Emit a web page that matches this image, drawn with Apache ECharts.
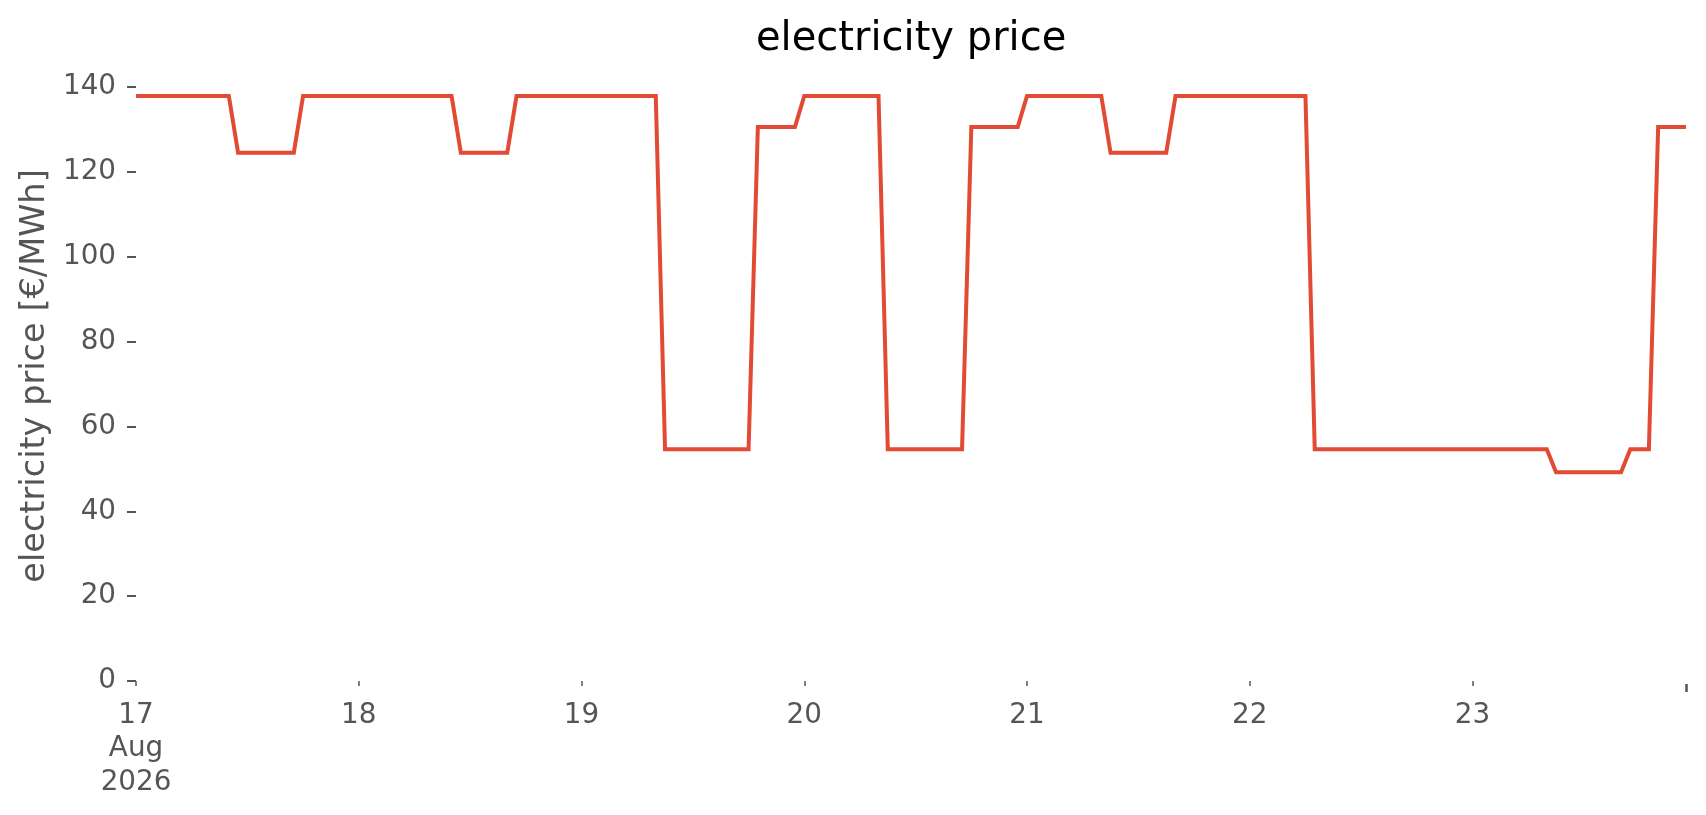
<!DOCTYPE html>
<html>
<head>
<meta charset="utf-8">
<script src="https://cdn.jsdelivr.net/npm/echarts@6/dist/echarts.min.js"></script>
<style>
html,body{margin:0;padding:0;background:#fff;}
#chart{width:1706px;height:815px;}
</style>
</head>
<body>
<div id="chart"></div>
<script>
// hourly electricity price [€/MWh], one array per day (00:00 .. 23:00)
var aug17 = [137.9,137.9,137.9,137.9,137.9,137.9,137.9,137.9,137.9,137.9,137.9,124.5,124.5,124.5,124.5,124.5,124.5,124.5,137.9,137.9,137.9,137.9,137.9,137.9];
var aug18 = [137.9,137.9,137.9,137.9,137.9,137.9,137.9,137.9,137.9,137.9,137.9,124.5,124.5,124.5,124.5,124.5,124.5,137.9,137.9,137.9,137.9,137.9,137.9,137.9];
var aug19 = [137.9,137.9,137.9,137.9,137.9,137.9,137.9,137.9,137.9,54.6,54.6,54.6,54.6,54.6,54.6,54.6,54.6,54.6,54.6,130.6,130.6,130.6,130.6,130.6];
var aug20 = [137.9,137.9,137.9,137.9,137.9,137.9,137.9,137.9,137.9,54.6,54.6,54.6,54.6,54.6,54.6,54.6,54.6,54.6,130.6,130.6,130.6,130.6,130.6,130.6];
var aug21 = [137.9,137.9,137.9,137.9,137.9,137.9,137.9,137.9,137.9,124.5,124.5,124.5,124.5,124.5,124.5,124.5,137.9,137.9,137.9,137.9,137.9,137.9,137.9,137.9];
var aug22 = [137.9,137.9,137.9,137.9,137.9,137.9,137.9,54.6,54.6,54.6,54.6,54.6,54.6,54.6,54.6,54.6,54.6,54.6,54.6,54.6,54.6,54.6,54.6,54.6];
var aug23 = [54.6,54.6,54.6,54.6,54.6,54.6,54.6,54.6,54.6,49.2,49.2,49.2,49.2,49.2,49.2,49.2,49.2,54.6,54.6,54.6,130.6,130.6,130.6,130.6];

var days = [aug17, aug18, aug19, aug20, aug21, aug22, aug23];
var dayLabels = ['17\nAug\n2026', '18', '19', '20', '21', '22', '23'];
var yTicks = [0, 20, 40, 60, 80, 100, 120, 140];

// x = hours since 17 Aug 2026 00:00
var seriesData = [];
var dayStarts = [];
days.forEach(function (arr, d) {
  dayStarts.push(d * 24);
  arr.forEach(function (v, h) {
    seriesData.push([d * 24 + h, v]);
  });
});
var endHour = seriesData[seriesData.length - 1][0];

var FONT = 'DejaVu Sans';
var chart = echarts.init(document.getElementById('chart'), null, {renderer: 'canvas'});
chart.setOption({
  animation: false,
  backgroundColor: '#ffffff',
  title: {
    text: 'electricity price',
    left: 751,
    top: 15,
    textStyle: {fontFamily: FONT, fontSize: 40, fontWeight: 'normal', color: '#000000'}
  },
  grid: {left: 136, right: 20, top: 87, bottom: 134, containLabel: false},
  xAxis: [{
    type: 'value',
    min: 0,
    max: endHour,
    offset: 3,
    axisLine: {show: false},
    splitLine: {show: false},
    axisTick: {show: true, customValues: dayStarts, length: 5, lineStyle: {color: '#555555', width: 1.5}},
    axisLabel: {
      customValues: dayStarts,
      margin: 15,
      fontFamily: FONT,
      fontSize: 27.8,
      lineHeight: 33.4,
      color: '#555555',
      align: 'center',
      formatter: function (value) {
        return dayLabels[Math.round(value / 24)];
      }
    }
  }, {
    type: 'value',
    position: 'bottom',
    min: 0,
    max: endHour,
    offset: 3,
    axisLine: {show: false},
    splitLine: {show: false},
    axisLabel: {show: false},
    axisTick: {show: true, customValues: [endHour], length: 8, lineStyle: {color: '#555555', width: 2.5}}
  }],
  yAxis: {
    type: 'value',
    min: yTicks[0],
    max: yTicks[yTicks.length - 1],
    interval: 20,
    name: 'electricity price [€/MWh]',
    nameLocation: 'middle',
    nameGap: 80,
    nameTextStyle: {fontFamily: FONT, fontSize: 33.6, color: '#555555', padding: [0, 0, 0, 16]},
    axisLine: {show: false},
    splitLine: {show: false},
    axisTick: {show: true, length: 9, lineStyle: {color: '#555555', width: 2}},
    axisLabel: {margin: 20, fontFamily: FONT, fontSize: 27.8, color: '#555555'}
  },
  series: [{
    type: 'line',
    xAxisIndex: 0,
    data: seriesData,
    showSymbol: false,
    symbol: 'none',
    lineStyle: {color: '#E24A33', width: 4, join: 'miter'},
    itemStyle: {color: '#E24A33'}
  }]
});
</script>
</body>
</html>
